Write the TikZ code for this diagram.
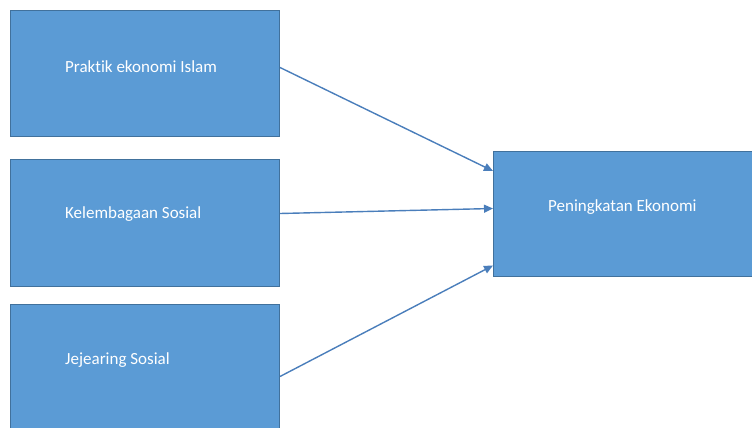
\documentclass[tikz,border=0pt]{standalone}
\usepackage{fontspec}
\setmainfont[Ligatures=NoCommon]{Carlito}
\usetikzlibrary{arrows.meta}
\definecolor{boxfill}{HTML}{5B9BD5}
\definecolor{boxline}{HTML}{41719C}
\definecolor{arrowcol}{HTML}{4A7EBB}
\begin{document}
\begin{tikzpicture}[x=1pt,y=-1pt,
  bluebox/.style={draw=boxline,fill=boxfill,line width=1pt,rectangle,inner sep=0pt,anchor=north west},
  boxtext/.style={text=white,font=\fontsize{17}{19}\selectfont,anchor=west,inner sep=0pt},
  link/.style={draw=arrowcol,line width=1.4pt,-{Triangle[length=9pt,width=8pt]}}]
\useasboundingbox (0,0) rectangle (752,428);
\clip (0,0) rectangle (752,428);
\node[bluebox,minimum width=269pt,minimum height=126pt] (p) at (10,10) {};
\node[bluebox,minimum width=269pt,minimum height=127pt] (k) at (10,159) {};
\node[bluebox,minimum width=269pt,minimum height=126pt] (j) at (10,304) {};
\node[bluebox,minimum width=262pt,minimum height=125pt] (r) at (493,151) {};
\node[boxtext] (pt) at (65,67) {Praktik ekonomi Islam};
\node[boxtext] (kt) at (65,214) {Kelembagaan Sosial};
\node[boxtext] (jt) at (65,360) {Jejearing Sosial};
\node[boxtext] (rt) at (548,207) {Peningkatan Ekonomi};
\draw[link] ([yshift=6pt]p.east) -- ([yshift=43pt]r.west);
\draw[link] ([yshift=9.5pt]k.east) -- ([yshift=5.5pt]r.west);
\draw[link] ([yshift=-9pt]j.east) -- ([yshift=-51.5pt]r.west);
\end{tikzpicture}
\end{document}
